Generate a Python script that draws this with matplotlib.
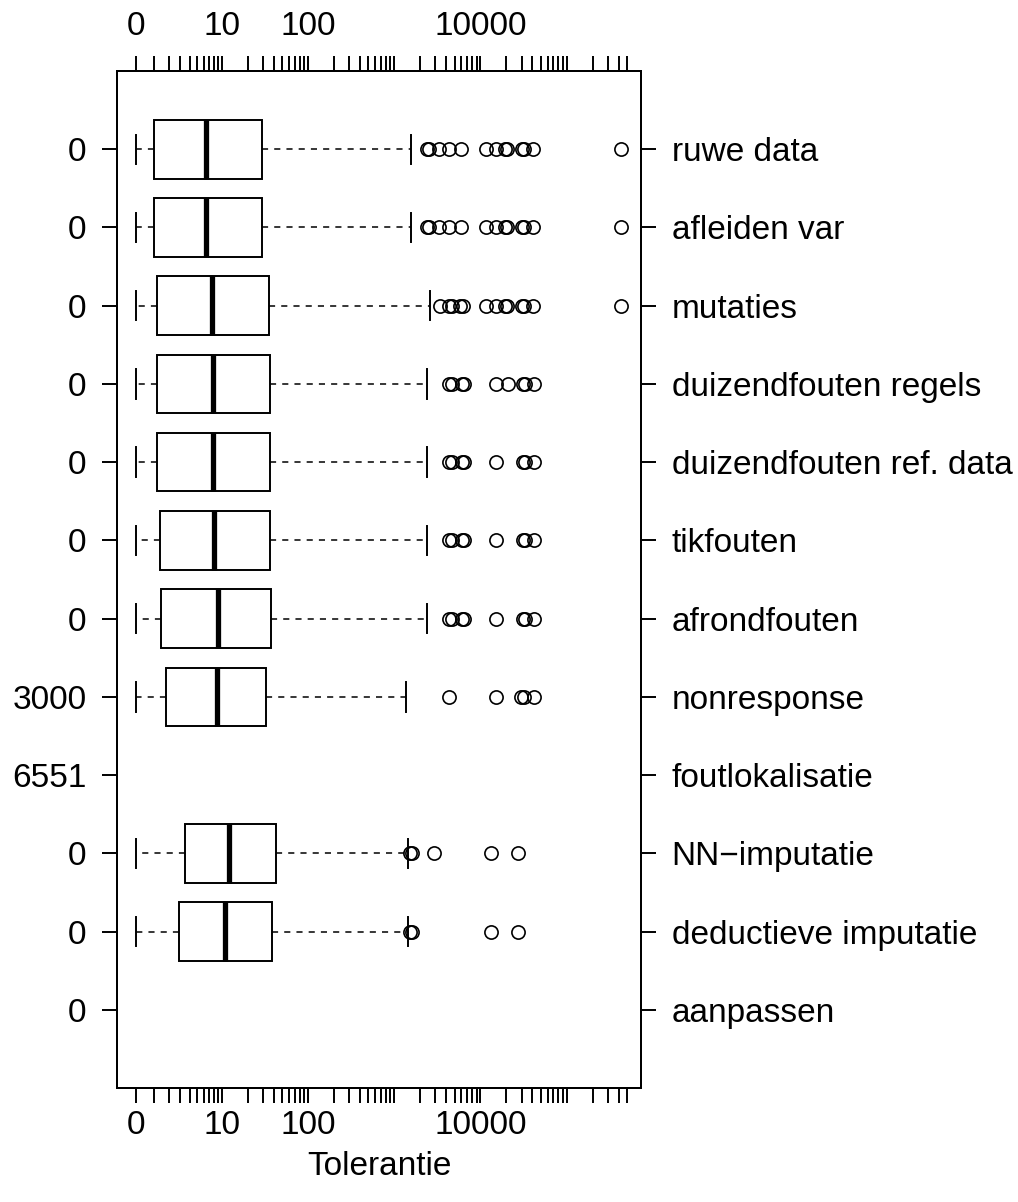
import numpy as np
import matplotlib.pyplot as plt
from matplotlib.ticker import FixedLocator, NullFormatter

plt.rcParams['font.family'] = ['Liberation Sans', 'DejaVu Sans']

# processing steps, top to bottom, with the number of records left out per step
steps = ["ruwe data", "afleiden var", "mutaties", "duizendfouten regels",
         "duizendfouten ref. data", "tikfouten", "afrondfouten", "nonresponse",
         "foutlokalisatie", "NN\u2212imputatie", "deductieve imputatie", "aanpassen"]
missing = ["0", "0", "0", "0", "0", "0", "0", "3000", "6551", "0", "0", "0"]

# box statistics of the tolerance per step (None = nothing to draw)
whisker_lo = [0, 0, 0, 0, 0, 0, 0, 0, None, 0, 0, None]
q1 = [1.0, 1.0, 1.2, 1.2, 1.2, 1.4, 1.45, 1.8, None, 3.5, 2.9, None]
median = [6.5, 6.5, 7.5, 7.8, 7.8, 8.0, 9.0, 8.6, None, 12, 10.7, None]
q3 = [29, 29, 35.6, 36.3, 36.3, 36.3, 37.2, 32.3, None, 42.2, 38.1, None]
whisker_hi = [1550, 1550, 2600, 2400, 2400, 2400, 2400, 1380, None, 1450, 1450, None]

outliers = [
    [2380, 2550, 3330, 4350, 5900, 11600, 15150, 19300, 20500, 30100, 32000, 41000, 426500],
    [2380, 2550, 3330, 4350, 5900, 11600, 15150, 19300, 20500, 30100, 32000, 41000, 426500],
    [3400, 4320, 4680, 5790, 6280, 11600, 15150, 19300, 20500, 30100, 32000, 41000, 426500],
    [4350, 4640, 6060, 6450, 15150, 21000, 30900, 32900, 41800],
    [4350, 4640, 6060, 6450, 15150, 30900, 32900, 41800],
    [4350, 4640, 6060, 6450, 15150, 30900, 32900, 41800],
    [4350, 4640, 6060, 6450, 15150, 30900, 32900, 41800],
    [4350, 15000, 29300, 32300, 42100],
    None,
    [1520, 1600, 2920, 13400, 26900],
    [1520, 1600, 13400, 26900],
    None,
]

major_ticks = [0, 10, 100, 10000]
minor_ticks = (list(range(0, 11)) + list(range(20, 101, 10)) + list(range(200, 1001, 100))
               + list(range(2000, 10001, 1000)) + list(range(20000, 100001, 10000))
               + list(range(200000, 500001, 100000)))

rows = np.arange(1, len(steps) + 1)

stats = []
positions = []
for i in range(len(steps)):
    if median[i] is None:
        continue
    stats.append(dict(whislo=whisker_lo[i], q1=q1[i], med=median[i], q3=q3[i],
                      whishi=whisker_hi[i], fliers=outliers[i]))
    positions.append(rows[i])

fig = plt.figure(figsize=(10.18, 12.02), dpi=100)
ax = fig.add_axes([117 / 1018, 1 - 1088 / 1202, 524 / 1018, 1017 / 1202])

lw = 1.4
ticklen = 11
ax.bxp(stats, positions=positions, orientation='horizontal', widths=0.75, capwidths=0.375,
       patch_artist=True,
       boxprops=dict(facecolor='white', edgecolor='black', linewidth=lw),
       medianprops=dict(color='black', linewidth=3.8, solid_capstyle='butt'),
       whiskerprops=dict(color='black', linewidth=1.1, linestyle=(0, (4, 4))),
       capprops=dict(color='black', linewidth=lw),
       flierprops=dict(marker='o', markerfacecolor='none', markeredgecolor='black',
                       markersize=9.5, markeredgewidth=1.2))

xlim = (-1.03, 7.27e5)


def style_x(a, pad):
    a.set_xscale('asinh', linear_width=2)
    a.set_xlim(*xlim)
    a.xaxis.set_major_locator(FixedLocator(major_ticks))
    a.xaxis.set_minor_locator(FixedLocator(minor_ticks))
    a.xaxis.set_minor_formatter(NullFormatter())
    a.set_xticklabels([str(t) for t in major_ticks])
    a.tick_params(axis='x', which='both', direction='out', length=ticklen, width=lw,
                  labelsize=24, pad=pad)


style_x(ax, 5)
ax.set_ylim(13, 0)
ax.set_yticks(rows, missing)
ax.tick_params(axis='y', direction='out', length=ticklen, width=lw, labelsize=24, pad=11)
ax.set_xlabel("Tolerantie", fontsize=24, labelpad=7)

top = ax.twiny()
style_x(top, 10)

right = ax.twinx()
right.set_ylim(13, 0)
right.set_yticks(rows, steps)
right.tick_params(axis='y', direction='out', length=ticklen, width=lw, labelsize=24, pad=11)

for a in (ax, top, right):
    for s in a.spines.values():
        s.set_linewidth(lw)

fig.savefig("out.png", dpi=100)
